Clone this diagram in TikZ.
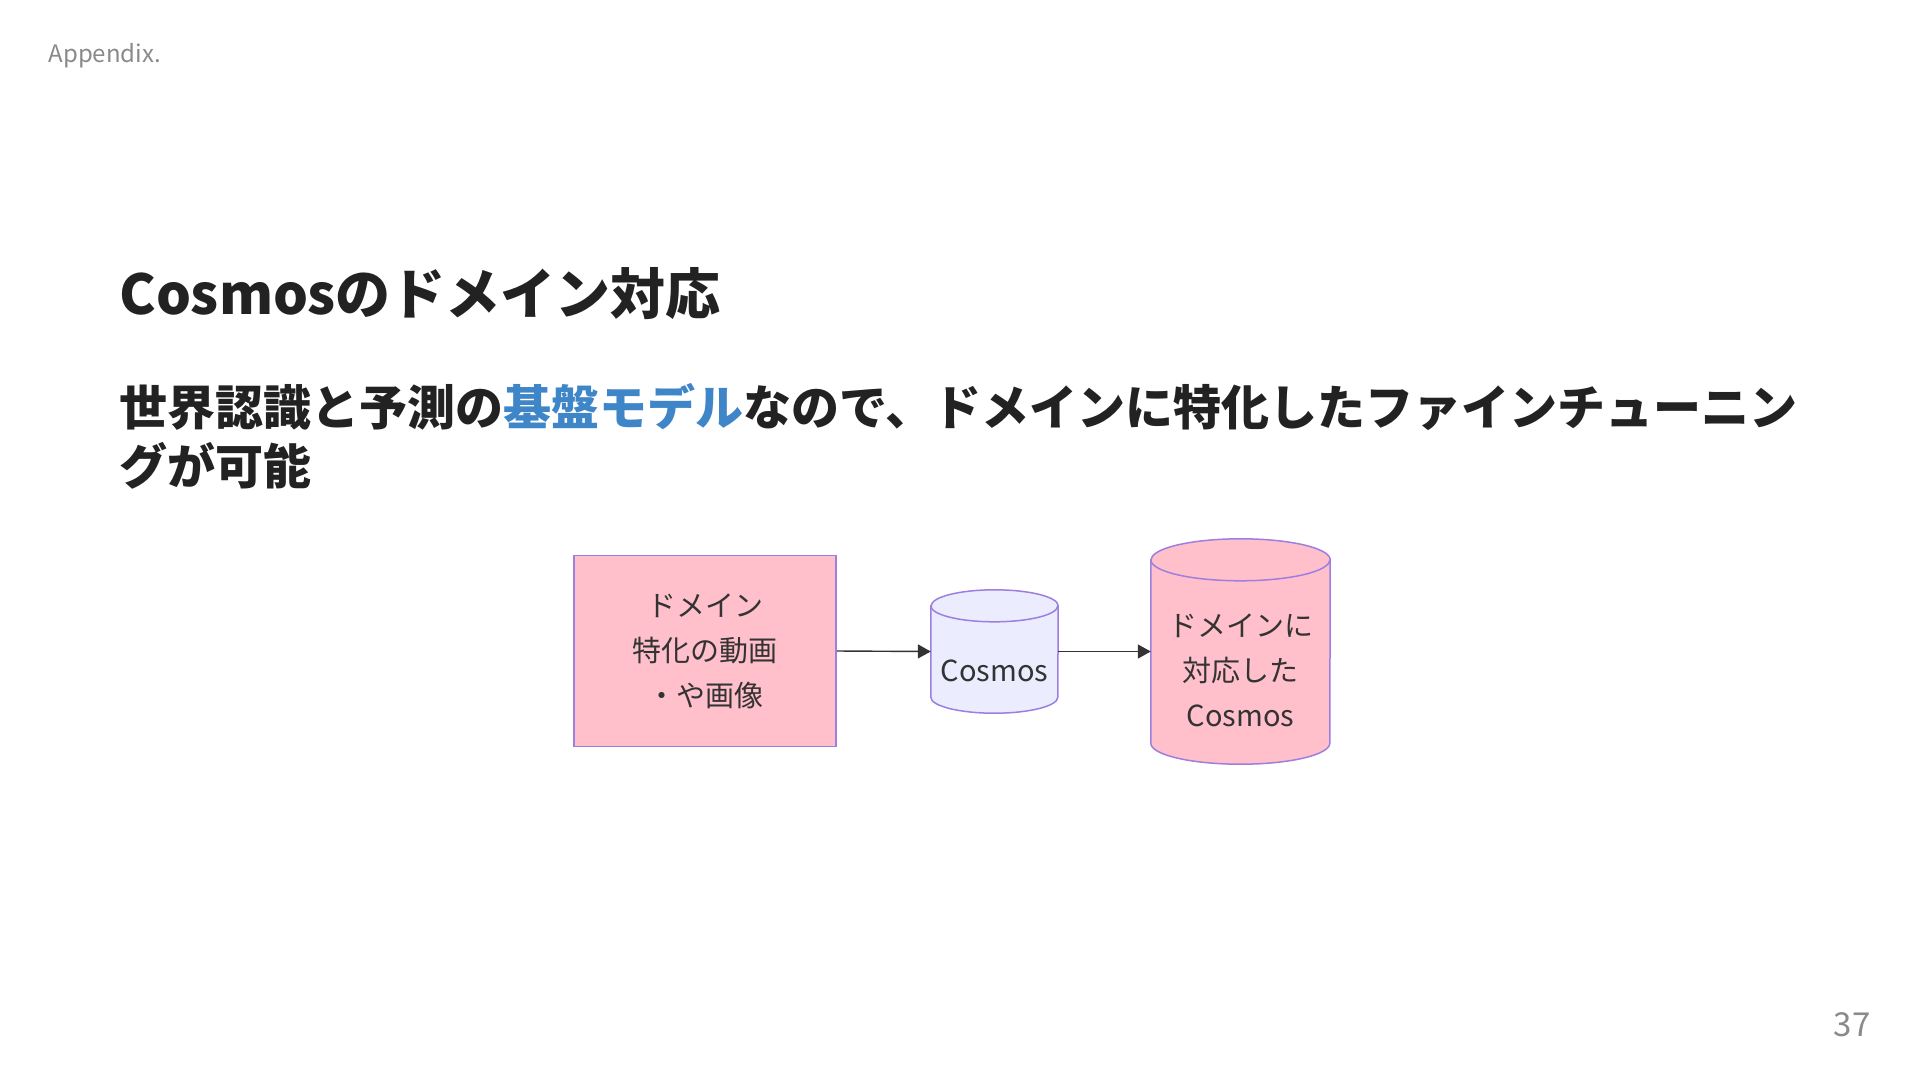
\documentclass[tikz,border=0pt]{standalone}
\usepackage{fontspec}
\setmainfont{Noto Sans CJK JP}
\usetikzlibrary{arrows.meta}
\definecolor{rosa}{HTML}{FFC0CB}
\definecolor{lilla}{HTML}{ECECFF}
\definecolor{bordo}{HTML}{9C7FDE}
\definecolor{freccia}{HTML}{333333}
\definecolor{blu}{HTML}{3F86C8}
\definecolor{titolo}{HTML}{222222}
\definecolor{grigio}{HTML}{8A8A8A}
\tikzset{
  blocco/.style={draw=bordo,fill=rosa,line width=1.5pt,minimum width=262pt,minimum height=191pt,
    align=center,text=freccia,font=\fontsize{29}{45}\selectfont},
  etichetta/.style={align=center,text=freccia,font=\fontsize{29}{45}\selectfont},
  vuoto/.style={inner sep=0pt},
  collega/.style={draw=freccia,line width=1.4pt,-{Triangle[length=13pt,width=14pt]}}
}
% cilindro: nome, raggio x, raggio y, colore
\newcommand{\cilindro}[4]{%
  \filldraw[fill=#4,draw=bordo,line width=1.5pt] ([yshift=-#3pt]#1.north west) -- ([yshift=#3pt]#1.south west)
    arc[start angle=180,end angle=360,x radius=#2pt,y radius=#3pt] -- ([yshift=-#3pt]#1.north east)
    arc[start angle=0,end angle=180,x radius=#2pt,y radius=#3pt] -- cycle;
  \draw[draw=bordo,line width=1.5pt] ([yshift=-#3pt]#1.north west) arc[start angle=180,end angle=360,x radius=#2pt,y radius=#3pt];}
\begin{document}
\begin{tikzpicture}[x=1pt,y=-1pt]
    \useasboundingbox[fill=white] (0,0) rectangle (1920,1080);
    % intestazione
    \node[anchor=base west,text=grigio,font=\fontsize{24}{28}\selectfont] (app) at (45,62) {Appendix.};
    \node[anchor=base east,text=grigio,font=\fontsize{33}{38}\selectfont] (pag) at (1874,1036) {37};
    \node[anchor=base west,text=titolo,font=\bfseries\fontsize{55}{64}\selectfont] (tit) at (116,314) {Cosmosのドメイン対応};
    \node[anchor=base west,text=titolo,font=\bfseries\fontsize{48}{59}\selectfont] (sot1) at (116,425) {世界認識と予測の{\color{blu}基盤モデル}なので、ドメインに特化したファインチューニン};
    \node[anchor=base west,text=titolo,font=\bfseries\fontsize{48}{59}\selectfont] (sot2) at (116,484) {グが可能};
    % blocchi
    \node[blocco] (dati) at (705,651) {ドメイン\\特化の動画\\・や画像};
    \node[vuoto,minimum width=127pt,minimum height=123pt] (cos) at (994.5,651.5) {};
    \node[vuoto,minimum width=179pt,minimum height=225pt] (cosdom) at (1240.5,651.5) {};
    \cilindro{cos}{63.5}{16}{lilla}
    \cilindro{cosdom}{89.5}{21}{rosa}
    \node[etichetta] (tcos) at (994.5,671) {Cosmos};
    \node[etichetta] (tcosdom) at (1240.5,670) {ドメインに\\対応した\\Cosmos};
    % frecce
    \draw[collega] (dati.east) -- (cos.west);
    \draw[collega] (cos.east) -- (cosdom.west);
\end{tikzpicture}
\end{document}
